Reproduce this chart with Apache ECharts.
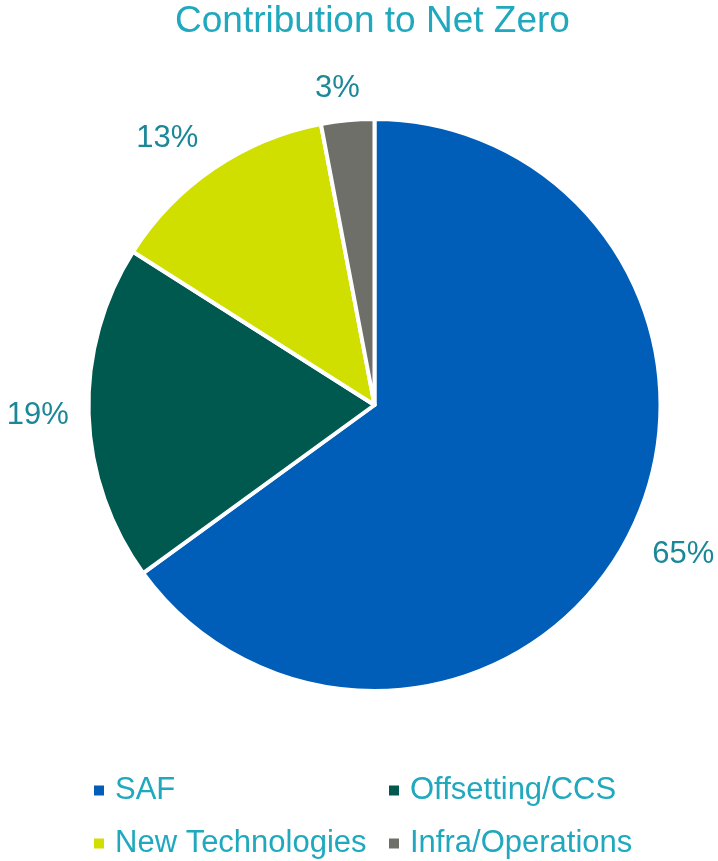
<!DOCTYPE html>
<html>
<head>
<meta charset="utf-8">
<title>Contribution to Net Zero</title>
<script src="https://cdn.jsdelivr.net/npm/echarts@6/dist/echarts.min.js"></script>
<style>
  html, body { margin: 0; padding: 0; background: #ffffff; }
  #chart { width: 718px; height: 861px; }
</style>
</head>
<body>
<div id="chart"></div>
<script>
// Share of the net-zero pathway by lever (percent)
const categories = ['SAF', 'Offsetting/CCS', 'New Technologies', 'Infra/Operations'];
const shares = [65, 19, 13, 3];

// Presentation settings per slice
const sliceColors = ['#005EB8', '#00594F', '#D0DF00', '#6E6F69'];
const labelOffsets = [56, 51, 54, 33];
const labelNudges = [[4, -6], [0, 0], [-16, 15], [-7, 1]];

const FONT = '"Liberation Sans", Arial, sans-serif';
const TITLE_COLOR = '#1FA8BE';
const LABEL_COLOR = '#1B8797';

const pieData = categories.map((name, i) => ({
  name: name,
  value: shares[i],
  itemStyle: { color: sliceColors[i] },
  labelLine: { show: false, length: labelOffsets[i], length2: 0 }
}));

// Two-column legend: each column is its own vertical legend
function legendColumn(names, left) {
  return {
    orient: 'vertical',
    left: left,
    top: 775,
    padding: 0,
    data: names,
    icon: 'rect',
    itemWidth: 12,
    itemHeight: 12,
    itemGap: 22,
    selectedMode: false,
    textStyle: {
      fontFamily: FONT,
      fontSize: 31,
      lineHeight: 31,
      color: TITLE_COLOR,
      padding: [0, 0, 0, 5]
    }
  };
}

const chart = echarts.init(document.getElementById('chart'), null, { renderer: 'canvas' });
chart.setOption({
  animation: false,
  backgroundColor: '#ffffff',
  title: {
    text: 'Contribution to Net Zero',
    left: 175,
    top: 3,
    padding: 0,
    textStyle: {
      fontFamily: FONT,
      fontSize: 37,
      fontWeight: 'normal',
      color: TITLE_COLOR
    }
  },
  legend: [
    legendColumn([categories[0], categories[2]], 92),
    legendColumn([categories[1], categories[3]], 387)
  ],
  series: [{
    type: 'pie',
    center: [374.5, 405],
    radius: [0, 286],
    startAngle: 90,
    clockwise: true,
    avoidLabelOverlap: false,
    itemStyle: { borderColor: '#ffffff', borderWidth: 4 },
    label: {
      show: true,
      position: 'outside',
      distanceToLabelLine: 0,
      formatter: p => p.value + '%',
      fontFamily: FONT,
      fontSize: 31,
      color: LABEL_COLOR
    },
    labelLayout: p => ({
      align: 'center',
      verticalAlign: 'middle',
      dx: labelNudges[p.dataIndex][0],
      dy: labelNudges[p.dataIndex][1]
    }),
    emphasis: { disabled: true },
    data: pieData
  }]
});
</script>
</body>
</html>
